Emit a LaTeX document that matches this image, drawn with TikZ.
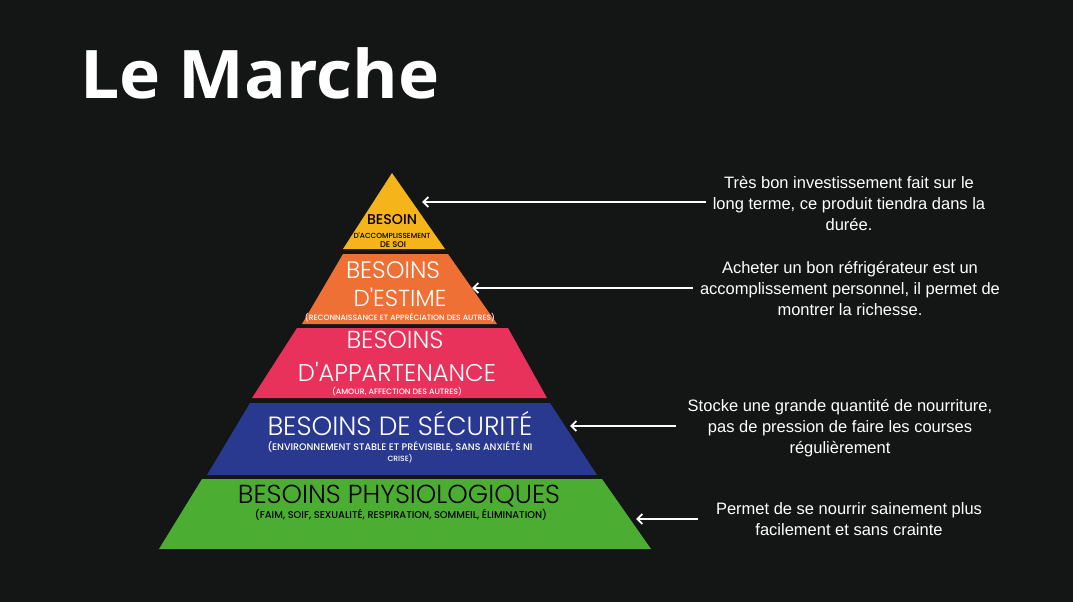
\documentclass[tikz,border=0pt]{standalone}
\usepackage{fontspec}
\usepackage{graphicx}
\usetikzlibrary{arrows.meta}
\setmainfont{Liberation Sans}
\newfontfamily\titlefont{Open Sans}
\newfontfamily\pyrfont{Poppins Light}
\newfontfamily\pyrsubfont{Poppins Medium}

\definecolor{bgdark}{HTML}{141515}
\definecolor{lvyellow}{HTML}{F4B41A}
\definecolor{lvorange}{HTML}{EE7034}
\definecolor{lvpink}{HTML}{E8315B}
\definecolor{lvblue}{HTML}{2A3990}
\definecolor{lvgreen}{HTML}{4BAE33}

% scale a label to a given width in pt
\newcommand\fitw[2]{\resizebox{#1pt}{!}{#2}}

\begin{document}
\begin{tikzpicture}[x=1pt,y=-1pt,
  lab/.style={inner sep=0pt, anchor=center, font=\pyrfont},
  sublab/.style={inner sep=0pt, anchor=center, font=\pyrsubfont},
  desc/.style={inner sep=0pt, align=center, text=white,
    font=\fontsize{16.5}{21}\selectfont},
  arr/.style={draw=white, line width=1.8pt, -{Straight Barb[length=5pt,width=10pt,line width=1.8pt]}}]

\fill[bgdark] (0,0) rectangle (1073,602);
\useasboundingbox (0,0) rectangle (1073,602);

% title
\node[anchor=base west, inner sep=0pt, text=white,
  font=\titlefont\bfseries\fontsize{67}{67}\selectfont] (title) at (80,98)
  {\resizebox{359pt}{\height}{Le Marche}};

% pyramid levels
\fill[lvyellow] (392,173) -- (445,249) -- (343,249) -- cycle;
\fill[lvorange] (343,254) -- (448,254) -- (497,324) -- (302,324) -- cycle;
\fill[lvpink]   (297,328) -- (508,328) -- (547,398) -- (252,398) -- cycle;
\fill[lvblue]   (250,403) -- (550,403) -- (597,475) -- (207,475) -- cycle;
\fill[lvgreen]  (202,479) -- (602,479) -- (651,549) -- (159,549) -- cycle;

% level labels
\node[sublab, text=black] (y1) at (392,220) {\fitw{50}{BESOIN}};
\node[sublab, text=black] (y2) at (392,236) {\fitw{77}{D'ACCOMPLISSEMENT}};
\node[sublab, text=black] (y3) at (393,245) {\fitw{26}{DE SOI}};

\node[lab, text=white] (o1) at (393,270) {\fitw{94}{BESOINS}};
\node[lab, text=white] (o2) at (400,297) {\fitw{93}{D'ESTIME}};
\node[sublab, text=white] (o3) at (400,318) {\fitw{190}{(RECONNAISSANCE ET APPRÉCIATION DES AUTRES)}};

\node[lab, text=white] (p1) at (395,340) {\fitw{97}{BESOINS}};
\node[lab, text=white] (p2) at (397,372) {\fitw{198}{D'APPARTENANCE}};
\node[sublab, text=white] (p3) at (397,392) {\fitw{130}{(AMOUR, AFFECTION DES AUTRES)}};

\node[lab, text=white] (b1) at (400,424) {\fitw{265}{BESOINS DE SÉCURITÉ}};
\node[sublab, text=white] (b2) at (400,447) {\fitw{265}{(ENVIRONNEMENT STABLE ET PRÉVISIBLE, SANS ANXIÉTÉ NI}};
\node[sublab, text=white] (b3) at (400,459) {\fitw{25}{CRISE)}};

\node[lab, text=black] (g1) at (399,496) {\fitw{322}{BESOINS PHYSIOLOGIQUES}};
\node[sublab, text=black] (g2) at (401,515) {\fitw{292}{(FAIM, SOIF, SEXUALITÉ, RESPIRATION, SOMMEIL, ÉLIMINATION)}};

% descriptions
\node[desc] (d1) at (849,204) {Très bon investissement fait sur le\\long terme, ce produit tiendra dans la\\durée.};
\node[desc] (d2) at (850,289) {Acheter un bon réfrigérateur est un\\accomplissement personnel, il permet de\\montrer la richesse.};
\node[desc] (d3) at (840,428) {Stocke une grande quantité de nourriture,\\pas de pression de faire les courses\\régulièrement};
\node[desc] (d4) at (849,519) {Permet de se nourrir sainement plus\\facilement et sans crainte};

% arrow ends
\coordinate (s1) at (706,202);  \coordinate (e1) at (422,202);
\coordinate (s2) at (693,288);  \coordinate (e2) at (472,288);
\coordinate (s3) at (676,426);  \coordinate (e3) at (570,426);
\coordinate (s4) at (698,519);  \coordinate (e4) at (636,519);

\draw[arr] (s1) -- (e1);
\draw[arr] (s2) -- (e2);
\draw[arr] (s3) -- (e3);
\draw[arr] (s4) -- (e4);
\end{tikzpicture}
\end{document}
